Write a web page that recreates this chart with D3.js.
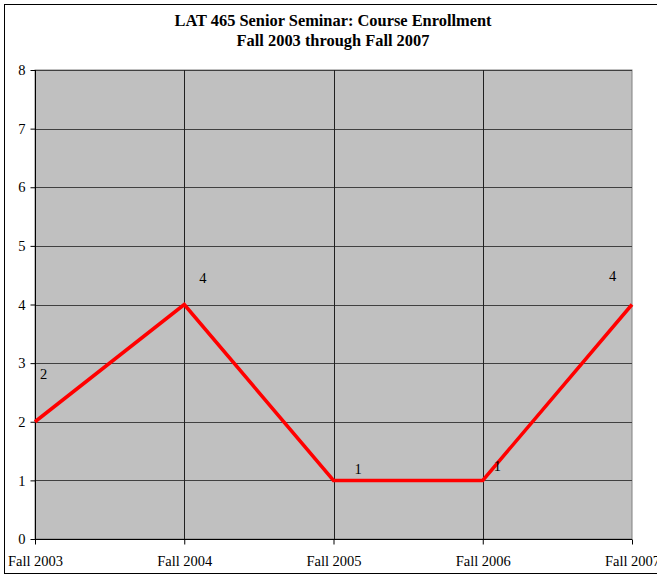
<!DOCTYPE html>
<head>
  <meta charset="utf-8">
  <script src="https://unpkg.com/d3@7/dist/d3.min.js"></script>
  <style>
    body { margin:0; background:#fff; }
    text { font-family: "Liberation Serif", "Times New Roman", serif; }
  </style>
</head>
<body>
  <svg width="657" height="575"></svg>
  <script>
    var terms = ["Fall 2003", "Fall 2004", "Fall 2005", "Fall 2006", "Fall 2007"];
    var enrollment = [2, 4, 1, 1, 4];
    var yTicks = [0, 1, 2, 3, 4, 5, 6, 7, 8];
    var titleLines = ["LAT 465 Senior Seminar: Course Enrollment", "Fall 2003 through Fall 2007"];
    // label nudges relative to each point (how the original sheet placed them)
    var labelDx = [5, 15, 21, 11, -23];
    var labelDy = [-43, -22, -6, -9, -24];

    var svg = d3.select("svg");
    var pLeft = 35, pRight = 632, pTop = 70, pBottom = 539;

    // outer frame
    svg.append("rect")
      .attr("x", 4.5).attr("y", 4.5)
      .attr("width", 660).attr("height", 569)
      .attr("fill", "none").attr("stroke", "#000").attr("stroke-width", 1);

    svg.selectAll(".title")
      .data(titleLines)
      .enter().append("text")
        .attr("x", 333)
        .attr("y", function (d, i) { return 26 + i * 20; })
        .attr("text-anchor", "middle")
        .attr("font-size", 16.4)
        .attr("font-weight", "bold")
        .text(function (d) { return d; });

    var x = d3.scalePoint().domain(terms).range([pLeft, pRight]);
    var y = d3.scaleLinear().domain([0, 8]).range([pBottom, pTop]);

    svg.append("rect")
      .attr("x", pLeft).attr("y", pTop)
      .attr("width", pRight - pLeft).attr("height", pBottom - pTop)
      .attr("fill", "#c0c0c0")
      .attr("stroke", "#808080");

    // horizontal grid
    svg.selectAll(".hgrid")
      .data(yTicks.slice(1))
      .enter().append("line")
        .attr("x1", pLeft).attr("x2", pRight)
        .attr("y1", function (d) { return Math.round(y(d)) + 0.5; })
        .attr("y2", function (d) { return Math.round(y(d)) + 0.5; })
        .attr("stroke", "#404040");

    // vertical grid
    svg.selectAll(".vgrid")
      .data(terms.slice(1, -1))
      .enter().append("line")
        .attr("x1", function (d) { return Math.round(x(d)) + 0.5; })
        .attr("x2", function (d) { return Math.round(x(d)) + 0.5; })
        .attr("y1", pTop).attr("y2", pBottom)
        .attr("stroke", "#202020");

    var yAxis = svg.append("g")
      .attr("transform", "translate(" + (pLeft + 0.5) + ",0)")
      .call(d3.axisLeft(y).tickValues(yTicks).tickSize(5).tickPadding(5).tickFormat(d3.format("d")));
    var xAxis = svg.append("g")
      .attr("transform", "translate(0," + (pBottom + 0.5) + ")")
      .call(d3.axisBottom(x).tickSize(5).tickPadding(11));
    svg.selectAll(".domain").attr("stroke", "#000");
    svg.selectAll(".tick line").attr("stroke", "#000");
    svg.selectAll(".tick text")
      .attr("font-family", "Liberation Serif, Times New Roman, serif")
      .attr("font-size", 14.5).attr("fill", "#000");
    xAxis.select(".domain").attr("d", "M" + pLeft + ",0H" + pRight);
    yAxis.select(".domain").attr("d", "M0," + pBottom + "V" + pTop);

    var line = d3.line()
      .x(function (d, i) { return x(terms[i]); })
      .y(function (d) { return y(d); });

    svg.append("path")
      .datum(enrollment)
      .attr("d", line)
      .attr("fill", "none")
      .attr("stroke", "#ff0000")
      .attr("stroke-width", 3.5)
      .attr("stroke-linejoin", "miter");

    svg.selectAll(".lbl")
      .data(enrollment)
      .enter().append("text")
        .attr("x", function (d, i) { return x(terms[i]) + labelDx[i]; })
        .attr("y", function (d, i) { return y(d) + labelDy[i]; })
        .attr("font-size", 14.5)
        .text(function (d) { return d; });
  </script>
</body>
